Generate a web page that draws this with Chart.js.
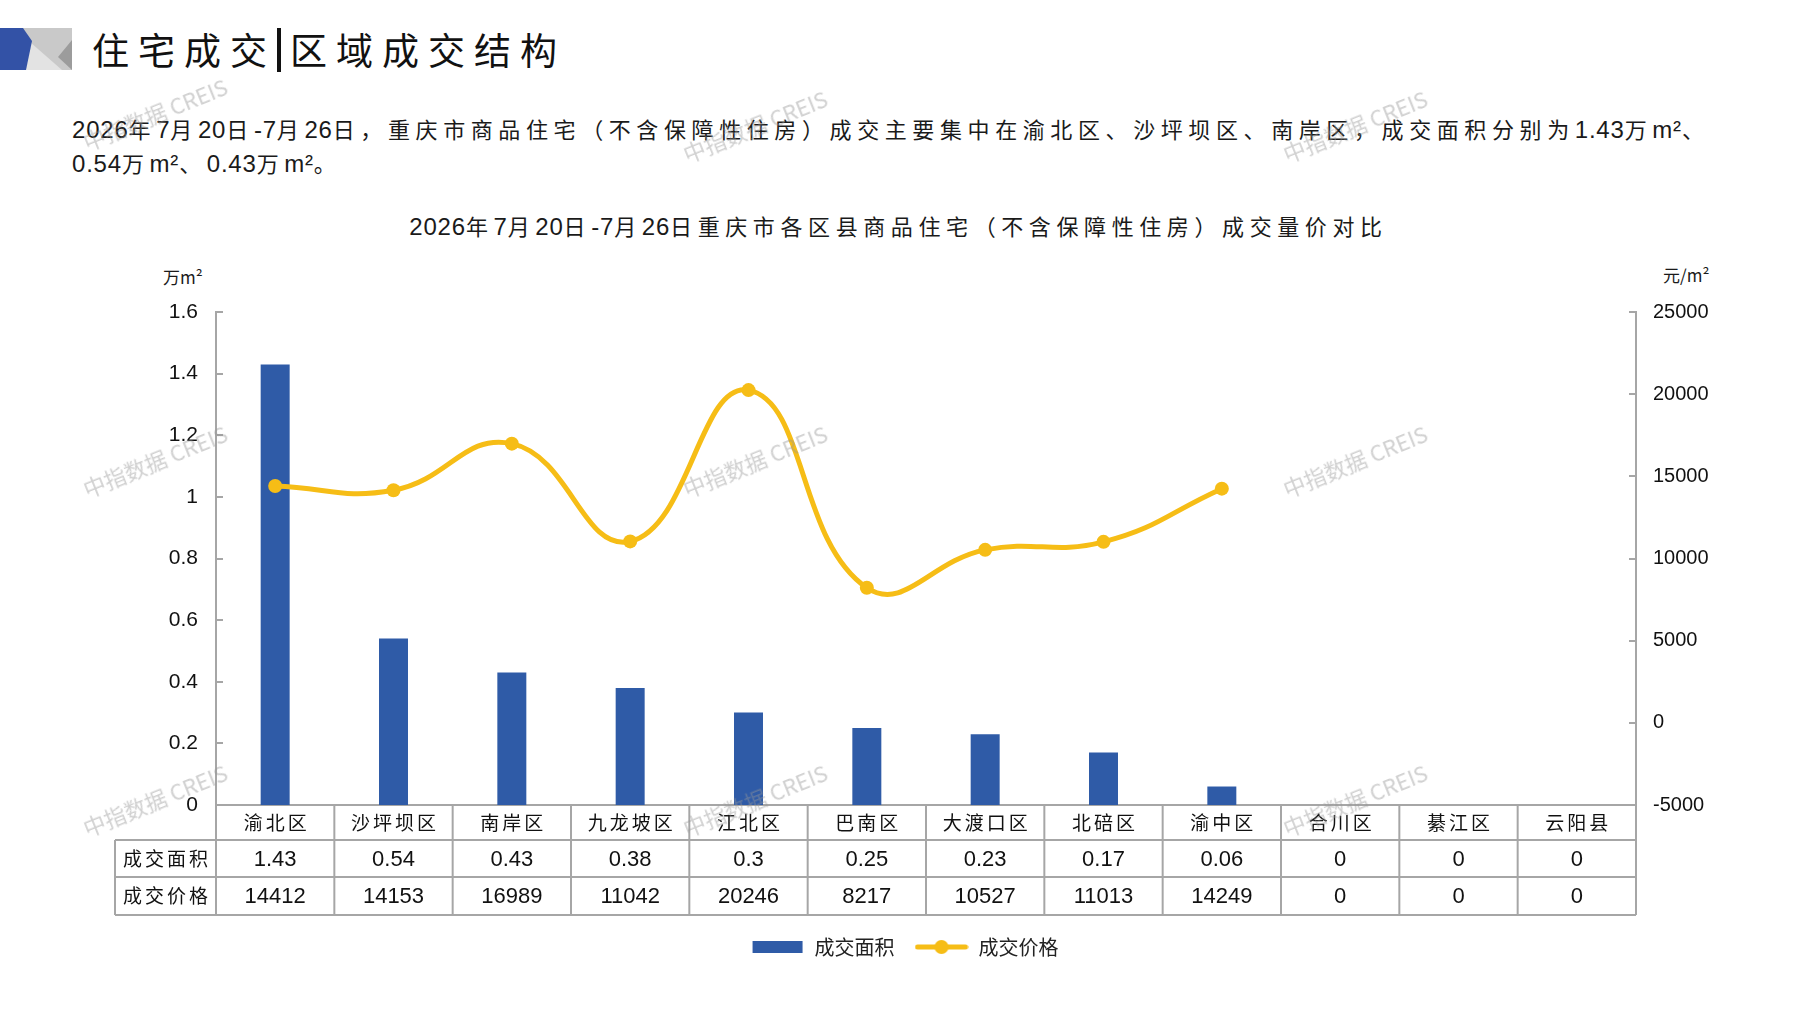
<!DOCTYPE html>
<html><head><meta charset="utf-8">
<script src="https://cdn.jsdelivr.net/npm/chart.js@4.4.1/dist/chart.umd.min.js"></script>
<style>
html,body{margin:0;padding:0;background:#fff;width:1797px;height:1010px;overflow:hidden;}
canvas#c{position:absolute;left:0;top:0;width:1797px;height:1010px;}
.cjk{font-family:"Noto Sans CJK SC","Noto Sans",sans-serif;}
.txt{position:absolute;white-space:nowrap;color:#1a1a1a;}
#hdr{left:92px;top:20px;font-size:37px;letter-spacing:9px;line-height:58px;color:#111;}
#hdr .bar{display:inline-block;width:4px;height:44px;background:#111;vertical-align:-7px;margin:0 9px 0 1px;}
#para{left:72px;top:112px;font-size:22px;letter-spacing:5.6px;line-height:33px;}
#para .n,#ctitle .n{letter-spacing:0.8px;font-family:"Liberation Sans Narrow","Liberation Sans",sans-serif;font-size:24px;}
#ctitle{left:0;width:1797px;text-align:center;top:208px;font-size:22px;letter-spacing:5.6px;line-height:34px;}
.unit{font-size:17px;line-height:22px;}
.wm{position:absolute;white-space:nowrap;color:rgba(150,150,150,0.45);font-size:22px;transform:rotate(-22deg);transform-origin:center center;font-family:"Noto Sans CJK SC","Liberation Sans",sans-serif;z-index:5;}
#logo{position:absolute;left:0;top:28px;}
</style>
</head><body>
<svg id="logo" width="74" height="44" viewBox="0 0 74 44">
  <polygon points="20,0 72,0 72,42 20,42" fill="#c9c9c9"/>
  <polygon points="30,14 62,42 24,42" fill="#e3e3e3"/>
  <polygon points="72,12 72,42 58,29" fill="#9c9c9c"/>
  <polygon points="0,0 23,0 32,13 26,42 0,42" fill="#3352a6"/>
</svg>
<div id="hdr" class="txt cjk">住宅成交<span class="bar"></span>区域成交结构</div>
<div id="para" class="txt cjk"><span class="n">2026</span>年<span class="n">7</span>月<span class="n">20</span>日<span class="n">-7</span>月<span class="n">26</span>日，重庆市商品住宅（不含保障性住房）成交主要集中在渝北区、沙坪坝区、南岸区，成交面积分别为<span class="n">1.43</span>万<span class="n">m²</span>、<br><span class="n">0.54</span>万<span class="n">m²</span>、<span class="n">0.43</span>万<span class="n">m²</span>。</div>
<div id="ctitle" class="txt cjk"><span class="n">2026</span>年<span class="n">7</span>月<span class="n">20</span>日<span class="n">-7</span>月<span class="n">26</span>日重庆市各区县商品住宅（不含保障性住房）成交量价对比</div>
<div class="txt cjk unit" style="left:163px;top:266px;">万m²</div>
<div class="txt cjk unit" style="left:1663px;top:264px;">元/m²</div>
<canvas id="c" width="1797" height="1010"></canvas>
<script>
// ---- data ----
const categories = ['渝北区','沙坪坝区','南岸区','九龙坡区','江北区','巴南区','大渡口区','北碚区','渝中区','合川区','綦江区','云阳县'];
const areaValues = [1.43, 0.54, 0.43, 0.38, 0.3, 0.25, 0.23, 0.17, 0.06, 0, 0, 0];
const priceValues = [14412, 14153, 16989, 11042, 20246, 8217, 10527, 11013, 14249, 0, 0, 0];
const seriesNames = ['成交面积', '成交价格'];
const areaAxis = {min: 0, max: 1.6, step: 0.2};
const priceAxis = {min: -5000, max: 25000, step: 5000};

const BLUE = '#2f5ba7';
const GOLD = '#f6bd16';
const GRID = '#a6a6a6';
const CJK = '"Noto Sans CJK SC", "Noto Sans", sans-serif';
const NUM = '"Liberation Sans", Arial, sans-serif';
const NARROW = '"Liberation Sans Narrow", "Liberation Sans", sans-serif';

// watermarks
[[158,112],[758,124],[1358,124],[158,459],[758,459],[1358,459],[158,798],[758,798],[1358,798]].forEach(([cx,cy])=>{
  const d=document.createElement('div'); d.className='wm'; d.textContent='中指数据 CREIS';
  d.style.left=(cx-80)+'px'; d.style.top=(cy-15)+'px'; document.body.appendChild(d);
});

// legend icons
function makeIcon(kind){
  const c=document.createElement('canvas'); c.width=54; c.height=16;
  const g=c.getContext('2d');
  if(kind==='bar'){ g.fillStyle=BLUE; g.fillRect(2,2,50,12); }
  else { g.strokeStyle=GOLD; g.lineWidth=5; g.lineCap='round'; g.beginPath(); g.moveTo(3,8); g.lineTo(51,8); g.stroke();
         g.fillStyle=GOLD; g.beginPath(); g.arc(27,8,7,0,Math.PI*2); g.fill(); }
  return c;
}
const icons=[makeIcon('bar'), makeIcon('line')];

const innerTicks = {
  id:'innerTicks',
  afterDraw(chart){
    const ctx=chart.ctx; ctx.save(); ctx.strokeStyle=GRID; ctx.lineWidth=2;
    [['y',1],['y1',-1]].forEach(([id,dir])=>{
      const s=chart.scales[id]; const ax = dir>0 ? s.right : s.left;
      s.ticks.forEach(t=>{ const y=Math.round(s.getPixelForValue(t.value));
        ctx.beginPath(); ctx.moveTo(ax,y); ctx.lineTo(ax+dir*7,y); ctx.stroke(); });
    });
    ctx.restore();
  }
};

const dataTable = {
  id:'dataTable',
  afterDraw(chart){
    const {ctx, chartArea:ca} = chart; const x=chart.scales.x;
    const half=(x.getPixelForValue(1)-x.getPixelForValue(0))/2;
    const y0=ca.bottom, y1=y0+35, y2=y1+37, y3=y2+38, left=115;
    ctx.save(); ctx.strokeStyle=GRID; ctx.lineWidth=2;
    const ln=(a,b,c,d)=>{ctx.beginPath();ctx.moveTo(a,b);ctx.lineTo(c,d);ctx.stroke();};
    ln(left,y1,ca.right,y1); ln(left,y2,ca.right,y2); ln(left,y3,ca.right,y3);
    ln(left,y1,left,y3);
    for(let i=0;i<=categories.length;i++){
      const xb = i<categories.length ? x.getPixelForValue(i)-half : x.getPixelForValue(i-1)+half;
      ln(xb,y0,xb,y3);
    }
    ctx.fillStyle='#111'; ctx.textAlign='center'; ctx.textBaseline='middle';
    const hx=(left+ca.left)/2;
    ctx.font='19px '+CJK; ctx.letterSpacing='3px';
    ctx.fillText(seriesNames[0], hx+1.5, (y1+y2)/2);
    ctx.fillText(seriesNames[1], hx+1.5, (y2+y3)/2);
    categories.forEach((c,i)=>{ ctx.fillText(c, x.getPixelForValue(i)+1.5, (y0+y1)/2); });
    ctx.letterSpacing='0px';
    ctx.font='22px '+NARROW;
    areaValues.forEach((v,i)=>{ ctx.fillText(String(v), x.getPixelForValue(i), (y1+y2)/2+1); });
    priceValues.forEach((v,i)=>{ ctx.fillText(String(v), x.getPixelForValue(i), (y2+y3)/2+1); });
    ctx.restore();
  }
};

new Chart(document.getElementById('c'), {
  data:{
    labels: categories,
    datasets:[
      {type:'bar', label:seriesNames[0], data:areaValues, yAxisID:'y', backgroundColor:BLUE, order:2,
       barPercentage:0.245, categoryPercentage:1},
      {type:'line', label:seriesNames[1], data:priceValues.map(v=>v===0?null:v), yAxisID:'y1', order:1,
       borderColor:GOLD, backgroundColor:GOLD, borderWidth:5, tension:0.45,
       pointRadius:7, pointBackgroundColor:GOLD, pointBorderWidth:0, pointHoverRadius:7}
    ]
  },
  options:{
    responsive:false, animation:false, devicePixelRatio:1,
    layout:{padding:{top:312, left:12, right:0, bottom:43}},
    plugins:{
      title:{display:false}, tooltip:{enabled:false},
      legend:{display:true, position:'bottom',
        labels:{usePointStyle:true, pointStyleWidth:54, padding:20, color:'#222',
          font:{family:CJK, size:20},
          generateLabels(chart){
            const items=Chart.defaults.plugins.legend.labels.generateLabels(chart);
            items.forEach(it=>{ it.pointStyle=icons[it.datasetIndex]; });
            return items.sort((a,b)=>a.datasetIndex-b.datasetIndex);
          }}}
    },
    scales:{
      x:{position:'bottom', grid:{display:false, drawTicks:false}, ticks:{display:false},
         border:{display:true, color:GRID, width:2},
         afterFit(s){ s.height=112; }},
      y:{position:'left', min:areaAxis.min, max:areaAxis.max,
         grid:{display:false, drawTicks:false}, border:{display:true, color:GRID, width:2},
         ticks:{stepSize:areaAxis.step, padding:18, color:'#111', font:{family:NUM, size:21},
           callback:v=>String(parseFloat(Number(v).toFixed(1)))},
         afterFit(s){ s.width=204; }},
      y1:{position:'right', min:priceAxis.min, max:priceAxis.max,
         grid:{display:false, drawTicks:false}, border:{display:true, color:GRID, width:2},
         ticks:{stepSize:priceAxis.step, padding:17, color:'#111', font:{family:NUM, size:20},
           callback:v=>String(v)},
         afterFit(s){ s.width=161; }}
    }
  },
  plugins:[innerTicks, dataTable]
});
</script>
</body></html>
